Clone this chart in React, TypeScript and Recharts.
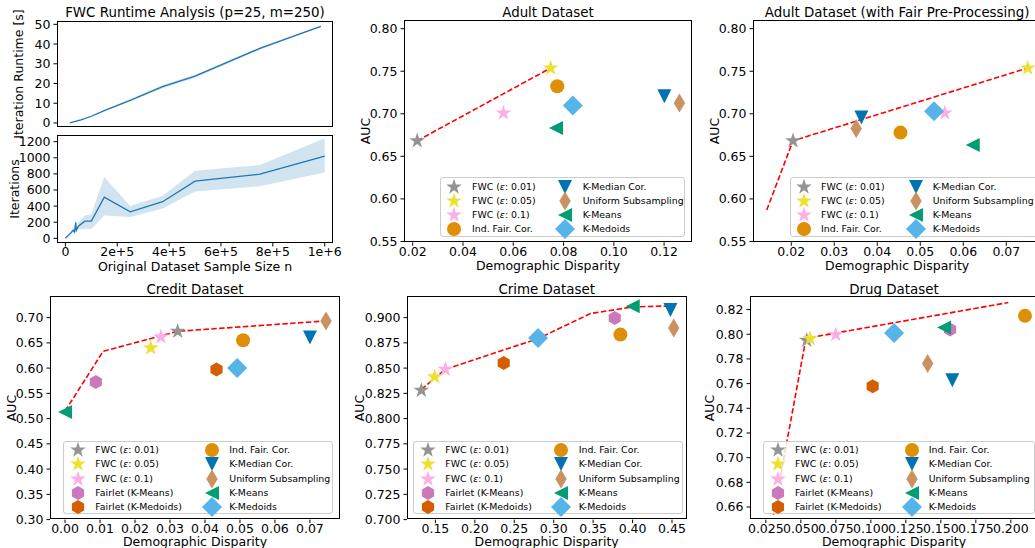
import React from "react";
import { ComposedChart, Line, Scatter, Area, XAxis, YAxis, Legend } from "recharts";

const FONT = "'DejaVu Sans', 'Liberation Sans', sans-serif";

// ---------- runtime analysis (top-left) ----------
const runtimeN = [17000, 60000, 100000, 150000, 250000, 375000, 500000, 750000, 985000];
const runtimeSec = [0, 1.6, 3.4, 6.3, 11.5, 18.4, 23.7, 37.8, 49];
const runtimeLo = [0, 1.4, 3.1, 5.9, 11.0, 17.6, 22.9, 37.2, 48.6];
const runtimeHi = [0.1, 1.8, 3.7, 6.7, 12.0, 19.2, 24.5, 38.4, 49.4];

const iterN = [0, 20000, 30000, 35000, 40000, 42000, 50000, 75000, 100000, 150000, 250000, 375000, 500000, 750000, 1000000];
const iterMean = [0, 65, 100, 80, 200, 100, 150, 213, 213, 510, 328, 455, 710, 796, 1021];
const iterLo = [0, 45, 75, 60, 90, 75, 110, 120, 115, 285, 264, 370, 583, 647, 817];
const iterHi = [0, 85, 125, 100, 280, 125, 195, 285, 300, 762, 400, 528, 838, 910, 1242];

const runtimeTicks = [0, 10, 20, 30, 40, 50];
const iterTicks = [0, 200, 400, 600, 800, 1000, 1200];
const sizeTicks = [0, 200000, 400000, 600000, 800000, 1000000];

// ---------- method labels ----------
const baseKeys = ["fwc001", "fwc005", "fwc01", "indFair", "kMedian", "uniform", "kMeans", "kMedoids"];
const fullKeys = ["fwc001", "fwc005", "fwc01", "fairletKMeans", "fairletKMedoids", "indFair", "kMedian", "uniform", "kMeans", "kMedoids"];
const methodLabels: Record<string, string> = {
  fwc001: "FWC (ε: 0.01)",
  fwc005: "FWC (ε: 0.05)",
  fwc01: "FWC (ε: 0.1)",
  fairletKMeans: "Fairlet (K-Means)",
  fairletKMedoids: "Fairlet (K-Medoids)",
  indFair: "Ind. Fair. Cor.",
  kMedian: "K-Median Cor.",
  uniform: "Uniform Subsampling",
  kMeans: "K-Means",
  kMedoids: "K-Medoids",
};

// ---------- adult ----------
const adultX = [0.0218, 0.0749, 0.0561, 0.0775, 0.1201, 0.1261, 0.077, 0.0837];
const adultY = [0.6683, 0.7538, 0.7009, 0.7323, 0.7205, 0.7126, 0.6834, 0.7096];
const adultFrontX = [0.0218, 0.0749];
const adultFrontY = [0.6683, 0.7538];

// ---------- adult with fair pre-processing ----------
const adultFairX = [0.0204, 0.075, 0.0557, 0.0454, 0.0363, 0.0351, 0.0622, 0.0532];
const adultFairY = [0.6683, 0.7538, 0.7009, 0.6779, 0.6955, 0.6826, 0.6633, 0.7029];
const adultFairFrontX = [0.0143, 0.0204, 0.075];
const adultFairFrontY = [0.587, 0.6683, 0.7538];

// ---------- credit ----------
const creditX = [0.0322, 0.0245, 0.0274, 0.0088, 0.0433, 0.0509, 0.07, 0.0746, 0.0, 0.0492];
const creditY = [0.6729, 0.6399, 0.6617, 0.5726, 0.597, 0.6551, 0.6604, 0.6934, 0.5132, 0.6003];
const creditFrontX = [0.0, 0.0109, 0.0322, 0.0746];
const creditFrontY = [0.515, 0.6333, 0.6729, 0.6934];

// ---------- crime ----------
const crimeX = [0.1322, 0.1491, 0.1627, 0.3774, 0.2366, 0.3846, 0.448, 0.4522, 0.4002, 0.2802];
const crimeY = [0.828, 0.8413, 0.8488, 0.8997, 0.855, 0.8832, 0.9076, 0.8898, 0.9112, 0.8799];
const crimeFrontX = [0.1322, 0.1627, 0.2802, 0.3465, 0.4002, 0.448];
const crimeFrontY = [0.829, 0.8488, 0.8792, 0.904, 0.9106, 0.9116];

// ---------- drug ----------
const drugX = [0.0542, 0.0566, 0.0749, 0.1566, 0.1013, 0.2101, 0.1582, 0.1406, 0.1523, 0.1166];
const drugY = [0.7951, 0.7965, 0.7997, 0.8038, 0.7578, 0.8149, 0.7627, 0.7762, 0.8054, 0.8011];
const drugFrontX = [0.0304, 0.053, 0.0566, 0.1982];
const drugFrontY = [0.6538, 0.7924, 0.7973, 0.8257];

const adultXTicks = [0.02, 0.04, 0.06, 0.08, 0.1, 0.12];
const adultFairXTicks = [0.02, 0.03, 0.04, 0.05, 0.06, 0.07];
const adultYTicks = [0.55, 0.6, 0.65, 0.7, 0.75, 0.8];
const creditXTicks = [0, 0.01, 0.02, 0.03, 0.04, 0.05, 0.06, 0.07];
const creditYTicks = [0.3, 0.35, 0.4, 0.45, 0.5, 0.55, 0.6, 0.65, 0.7];
const crimeXTicks = [0.15, 0.2, 0.25, 0.3, 0.35, 0.4, 0.45];
const crimeYTicks = [0.7, 0.725, 0.75, 0.775, 0.8, 0.825, 0.85, 0.875, 0.9];
const drugXTicks = [0.025, 0.05, 0.075, 0.1, 0.125, 0.15, 0.175, 0.2];
const drugYTicks = [0.66, 0.68, 0.7, 0.72, 0.74, 0.76, 0.78, 0.8, 0.82];

// ---------- styling ----------
type Kind = "star" | "circle" | "tdown" | "tleft" | "thin" | "diamond" | "hex";
const STYLE: Record<string, { kind: Kind; color: string }> = {
  fwc001: { kind: "star", color: "#949494" },
  fwc005: { kind: "star", color: "#ece133" },
  fwc01: { kind: "star", color: "#fbafe4" },
  fairletKMeans: { kind: "hex", color: "#cc78bc" },
  fairletKMedoids: { kind: "hex", color: "#d55e00" },
  indFair: { kind: "circle", color: "#de8f05" },
  kMedian: { kind: "tdown", color: "#0173b2" },
  uniform: { kind: "thin", color: "#ca9161" },
  kMeans: { kind: "tleft", color: "#029e73" },
  kMedoids: { kind: "diamond", color: "#56b4e9" },
};

function markerPath(kind: Kind, cx: number, cy: number): string {
  const pts: [number, number][] = [];
  if (kind === "star") {
    for (let i = 0; i < 10; i++) {
      const r = i % 2 === 0 ? 8.2 : 3.2;
      const a = -Math.PI / 2 + (i * Math.PI) / 5;
      pts.push([cx + r * Math.cos(a), cy + r * Math.sin(a)]);
    }
  } else if (kind === "hex") {
    for (let i = 0; i < 6; i++) {
      const a = -Math.PI / 2 + (i * Math.PI) / 3;
      pts.push([cx + 7 * Math.cos(a), cy + 7 * Math.sin(a)]);
    }
  } else if (kind === "tdown") {
    pts.push([cx, cy + 7], [cx - 7, cy - 7], [cx + 7, cy - 7]);
  } else if (kind === "tleft") {
    pts.push([cx - 7, cy], [cx + 7, cy - 7], [cx + 7, cy + 7]);
  } else if (kind === "thin") {
    pts.push([cx, cy - 9.5], [cx + 5.7, cy], [cx, cy + 9.5], [cx - 5.7, cy]);
  } else if (kind === "diamond") {
    pts.push([cx, cy - 10], [cx + 10, cy], [cx, cy + 10], [cx - 10, cy]);
  }
  return "M" + pts.map((p) => p[0].toFixed(2) + "," + p[1].toFixed(2)).join("L") + "Z";
}

function Marker({ method, cx, cy }: { method: string; cx: number; cy: number }) {
  const s = STYLE[method];
  if (cx == null || cy == null) return null;
  if (s.kind === "circle") return <circle cx={cx} cy={cy} r={7} fill={s.color} />;
  return <path d={markerPath(s.kind, cx, cy)} fill={s.color} />;
}

function LabelText({ text }: { text: string }) {
  const parts = text.split("ε");
  if (parts.length === 1) return <>{text}</>;
  return (
    <>
      {parts[0]}
      <i style={{ fontFamily: "'DejaVu Sans'" }}>ε</i>
      {parts[1]}
    </>
  );
}

type LegendGeom = { x: number; y: number; w: number; h: number; rows: number; m1: number; t1: number; m2: number; t2: number; row0: number; dy: number };

function LegendBox({ keys, g }: { keys: string[]; g: LegendGeom }) {
  return (
    <div
      style={{
        position: "relative",
        width: g.w,
        height: g.h,
        boxSizing: "border-box",
        background: "rgba(255,255,255,0.8)",
        border: "1px solid #cccccc",
        borderRadius: 3,
        fontFamily: FONT,
        fontSize: 9.4,
        color: "#000",
      }}
    >
      {keys.map((k, i) => {
        const col = i < g.rows ? 0 : 1;
        const row = i % g.rows;
        const cy = g.row0 + row * g.dy;
        const mx = col === 0 ? g.m1 : g.m2;
        const tx = col === 0 ? g.t1 : g.t2;
        return (
          <React.Fragment key={k}>
            <svg width={24} height={24} style={{ position: "absolute", left: mx - 12, top: cy - 12, overflow: "visible" }}>
              <Marker method={k} cx={12} cy={12} />
            </svg>
            <div style={{ position: "absolute", left: tx, top: cy, transform: "translateY(-50%)", whiteSpace: "nowrap", lineHeight: 1 }}>
              <LabelText text={methodLabels[k]} />
            </div>
          </React.Fragment>
        );
      })}
    </div>
  );
}

function Txt({ x, y, size, rotate, children }: { x: number; y: number; size: number; rotate?: boolean; children: React.ReactNode }) {
  return (
    <div
      style={{
        position: "absolute",
        left: x,
        top: y,
        transform: `translate(-50%,-50%)${rotate ? " rotate(-90deg)" : ""}`,
        whiteSpace: "nowrap",
        fontSize: size,
        lineHeight: 1,
        color: "#000",
        fontFamily: FONT,
      }}
    >
      {children}
    </div>
  );
}

type Box = { l: number; t: number; r: number; b: number };
const PAD = { l: 70, t: 10, r: 10, b: 30 };
const tickStyle = { fontSize: 12.5, fill: "#000", fontFamily: FONT };

function Panel(props: {
  box: Box;
  xDomain: [number, number];
  yDomain: [number, number];
  xTicks: number[];
  yTicks: number[];
  xFmt: (v: number) => string;
  yFmt: (v: number) => string;
  noXLabels?: boolean;
  data?: any[];
  legend?: { keys: string[]; g: LegendGeom };
  children: React.ReactNode;
}) {
  const { box } = props;
  const left = box.l - PAD.l;
  const top = box.t - PAD.t;
  const w = box.r - box.l + PAD.l + PAD.r;
  const h = box.b - box.t + PAD.t + PAD.b;
  return (
    <>
      <div style={{ position: "absolute", left, top }}>
        <ComposedChart width={w} height={h} data={props.data} margin={{ top: PAD.t, right: PAD.r, left: 0, bottom: 0 }}>
          <XAxis
            type="number"
            dataKey="x"
            domain={props.xDomain}
            ticks={props.xTicks}
            tickFormatter={props.xFmt}
            interval={0}
            allowDataOverflow
            axisLine={false}
            tickSize={3.5}
            tickMargin={1}
            height={PAD.b}
            tick={props.noXLabels ? false : tickStyle}
            tickLine={{ stroke: "#000" }}
          />
          <YAxis
            type="number"
            dataKey="y"
            domain={props.yDomain}
            ticks={props.yTicks}
            tickFormatter={props.yFmt}
            interval={0}
            allowDataOverflow
            axisLine={false}
            tickSize={3.5}
            tickMargin={3}
            width={PAD.l}
            tick={tickStyle}
            tickLine={{ stroke: "#000" }}
          />
          {props.children}
          {props.legend && (
            <Legend
              layout="horizontal"
              verticalAlign="middle"
              align="center"
              wrapperStyle={{ left: props.legend.g.x - left, top: props.legend.g.y - top, width: props.legend.g.w, height: props.legend.g.h }}
              content={() => <LegendBox keys={props.legend!.keys} g={props.legend!.g} />}
            />
          )}
        </ComposedChart>
      </div>
      <div
        style={{
          position: "absolute",
          left: box.l,
          top: box.t,
          width: box.r - box.l,
          height: box.b - box.t,
          border: "1px solid #000",
          boxSizing: "border-box",
          pointerEvents: "none",
        }}
      />
    </>
  );
}

const fmt = (d: number) => (v: number) => v.toFixed(d);
const sciFmt = (v: number) => {
  if (v === 0) return "0";
  const e = Math.floor(Math.log10(v) + 1e-9);
  return `${Math.round(v / 10 ** e)}e+${e}`;
};

function toPoints(xs: number[], ys: number[]) {
  return xs.map((x, i) => ({ x, y: ys[i] }));
}

function scatterSeries(keys: string[], xs: number[], ys: number[]) {
  return keys.map((k, i) => (
    <Scatter
      key={k}
      name={methodLabels[k]}
      data={[{ x: xs[i], y: ys[i] }]}
      dataKey="y"
      isAnimationActive={false}
      shape={(p: any) => <Marker method={k} cx={p.cx} cy={p.cy} />}
    />
  ));
}

function frontLine(xs: number[], ys: number[]) {
  return (
    <Line
      key="front"
      data={toPoints(xs, ys)}
      dataKey="y"
      type="linear"
      stroke="#ff0000"
      strokeWidth={1.6}
      strokeDasharray="5.5 2.4"
      dot={false}
      activeDot={false}
      isAnimationActive={false}
    />
  );
}

type ScatterPanelDef = {
  title: string;
  box: Box;
  xDomain: [number, number];
  yDomain: [number, number];
  xTicks: number[];
  yTicks: number[];
  xDec: number;
  yDec: number;
  keys: string[];
  xs: number[];
  ys: number[];
  fx: number[];
  fy: number[];
  yLabelX: number;
  titleY: number;
  xLabelY: number;
  legend: LegendGeom;
};

const scatterPanels: ScatterPanelDef[] = [
  {
    title: "Adult Dataset",
    box: { l: 404, t: 20, r: 692, b: 242.3 },
    xDomain: [0.01654, 0.1311],
    yDomain: [0.549, 0.8102],
    xTicks: adultXTicks,
    yTicks: adultYTicks,
    xDec: 2,
    yDec: 2,
    keys: baseKeys,
    xs: adultX,
    ys: adultY,
    fx: adultFrontX,
    fy: adultFrontY,
    yLabelX: 365.7,
    titleY: 12.5,
    xLabelY: 265.5,
    legend: { x: 440, y: 176.7, w: 245, h: 60.6, rows: 4, m1: 13.3, t1: 31, m2: 124.3, t2: 141.7, row0: 9.3, dy: 14.1 },
  },
  {
    title: "Adult Dataset (with Fair Pre-Processing)",
    box: { l: 753.3, t: 20, r: 1041, b: 242.3 },
    xDomain: [0.0111, 0.078],
    yDomain: [0.549, 0.8102],
    xTicks: adultFairXTicks,
    yTicks: adultYTicks,
    xDec: 2,
    yDec: 2,
    keys: baseKeys,
    xs: adultFairX,
    ys: adultFairY,
    fx: adultFairFrontX,
    fy: adultFairFrontY,
    yLabelX: 715,
    titleY: 12.5,
    xLabelY: 265.5,
    legend: { x: 790, y: 176.7, w: 252, h: 60.6, rows: 4, m1: 12.7, t1: 30, m2: 125, t2: 141.7, row0: 9.3, dy: 14.1 },
  },
  {
    title: "Credit Dataset",
    box: { l: 50, t: 295.7, r: 340, b: 519.3 },
    xDomain: [-0.0043, 0.0786],
    yDomain: [0.3, 0.7428],
    xTicks: creditXTicks,
    yTicks: creditYTicks,
    xDec: 2,
    yDec: 2,
    keys: fullKeys,
    xs: creditX,
    ys: creditY,
    fx: creditFrontX,
    fy: creditFrontY,
    yLabelX: 11.7,
    titleY: 290,
    xLabelY: 542.2,
    legend: { x: 63.3, y: 441, w: 270, h: 73.3, rows: 5, m1: 13.4, t1: 31, m2: 147.4, t2: 165, row0: 8.3, dy: 14.2 },
  },
  {
    title: "Crime Dataset",
    box: { l: 406.7, t: 295.7, r: 686.7, b: 519.3 },
    xDomain: [0.114, 0.469],
    yDomain: [0.7, 0.9214],
    xTicks: crimeXTicks,
    yTicks: crimeYTicks,
    xDec: 2,
    yDec: 3,
    keys: fullKeys,
    xs: crimeX,
    ys: crimeY,
    fx: crimeFrontX,
    fy: crimeFrontY,
    yLabelX: 360,
    titleY: 290,
    xLabelY: 542.2,
    legend: { x: 413.3, y: 441, w: 270, h: 73.3, rows: 5, m1: 13.4, t1: 31, m2: 146.7, t2: 164.4, row0: 8.3, dy: 14.2 },
  },
  {
    title: "Drug Dataset",
    box: { l: 750, t: 295.7, r: 1038, b: 519.3 },
    xDomain: [0.0137, 0.2194],
    yDomain: [0.6498, 0.831],
    xTicks: drugXTicks,
    yTicks: drugYTicks,
    xDec: 3,
    yDec: 2,
    keys: fullKeys,
    xs: drugX,
    ys: drugY,
    fx: drugFrontX,
    fy: drugFrontY,
    yLabelX: 710,
    titleY: 290,
    xLabelY: 542.2,
    legend: { x: 763.3, y: 441, w: 272, h: 73.3, rows: 5, m1: 13.4, t1: 30.7, m2: 147.4, t2: 164.4, row0: 8.3, dy: 14.2 },
  },
];

const runtimeRows = runtimeN.map((x, i) => ({ x, y: runtimeSec[i], band: [runtimeLo[i], runtimeHi[i]] }));
const iterRows = iterN.map((x, i) => ({ x, y: iterMean[i], band: [iterLo[i], iterHi[i]] }));

export default function App() {
  const topBox: Box = { l: 57.3, t: 20.7, r: 333.3, b: 127 };
  const botBox: Box = { l: 57.3, t: 135, r: 333.3, b: 243 };
  const nDomain: [number, number] = [-32400, 1032000];
  return (
    <div
      style={{
        position: "absolute",
        left: 0,
        top: 0,
        width: 1035,
        height: 548,
        overflow: "hidden",
        background: "#fff",
        fontFamily: FONT,
      }}
    >
      {/* runtime */}
      <Panel
        box={topBox}
        xDomain={nDomain}
        yDomain={[-2.2, 51.7]}
        xTicks={sizeTicks}
        yTicks={runtimeTicks}
        xFmt={sciFmt}
        yFmt={fmt(0)}
        noXLabels
        data={runtimeRows}
      >
        <Area dataKey="band" type="linear" stroke="none" fill="#1f77b4" fillOpacity={0.2} isAnimationActive={false} activeDot={false} />
        <Line dataKey="y" type="linear" stroke="#1f77b4" strokeWidth={1.3} dot={false} activeDot={false} isAnimationActive={false} />
      </Panel>
      <Panel
        box={botBox}
        xDomain={nDomain}
        yDomain={[-58, 1283]}
        xTicks={sizeTicks}
        yTicks={iterTicks}
        xFmt={sciFmt}
        yFmt={fmt(0)}
        data={iterRows}
      >
        <Area dataKey="band" type="linear" stroke="none" fill="#1f77b4" fillOpacity={0.2} isAnimationActive={false} activeDot={false} />
        <Line dataKey="y" type="linear" stroke="#1f77b4" strokeWidth={1.3} dot={false} activeDot={false} isAnimationActive={false} />
      </Panel>
      <Txt x={195} y={12.5} size={13.4}>FWC Runtime Analysis (p=25, m=250)</Txt>
      <Txt x={19} y={74} size={12.5} rotate>Iteration Runtime [s]</Txt>
      <Txt x={15} y={189} size={12.5} rotate>Iterations</Txt>
      <Txt x={195} y={266.8} size={12.5}>Original Dataset Sample Size n</Txt>

      {scatterPanels.map((p) => (
        <React.Fragment key={p.title}>
          <Panel
            box={p.box}
            xDomain={p.xDomain}
            yDomain={p.yDomain}
            xTicks={p.xTicks}
            yTicks={p.yTicks}
            xFmt={fmt(p.xDec)}
            yFmt={fmt(p.yDec)}
            legend={{ keys: p.keys, g: p.legend }}
          >
            {frontLine(p.fx, p.fy)}
            {scatterSeries(p.keys, p.xs, p.ys)}
          </Panel>
          <Txt x={(p.box.l + p.box.r) / 2} y={p.titleY} size={13.4}>{p.title}</Txt>
          <Txt x={(p.box.l + p.box.r) / 2} y={p.xLabelY} size={12.5}>Demographic Disparity</Txt>
          <Txt x={p.yLabelX} y={(p.box.t + p.box.b) / 2} size={12.5} rotate>AUC</Txt>
        </React.Fragment>
      ))}
    </div>
  );
}
